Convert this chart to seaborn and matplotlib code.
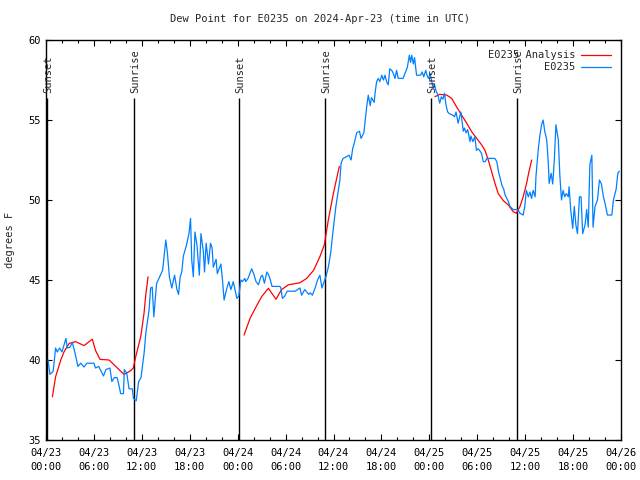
import pandas as pd
import matplotlib
matplotlib.use('Agg')
import matplotlib.pyplot as plt
import matplotlib.dates as mdates
import seaborn as sns

# hours after 2024-04-23 00:00 UTC
obs_hours = [0.25, 0.5, 0.9, 1.2, 1.4, 1.7, 2.0, 2.5, 2.65, 3.0, 3.3, 3.6, 4.0, 4.35, 4.75, 5.1,
             5.6, 6.0, 6.2, 6.6, 7.2, 7.5, 8.0, 8.25, 8.55, 8.9, 9.1, 9.35, 9.7, 9.8, 10.1, 10.4,
             10.8, 10.95, 11.3, 11.6, 11.9, 12.3, 12.5, 12.9, 13.1, 13.3, 13.5, 13.85, 14.05, 14.6,
             15.0, 15.2, 15.45, 15.75, 16.1, 16.4, 16.6, 16.8, 17.0, 17.2, 17.6, 17.9, 18.1, 18.25,
             18.45, 18.65, 18.9, 19.2, 19.4, 19.7, 19.85, 20.05, 20.35, 20.6, 20.8, 20.95, 21.3,
             21.45, 21.9, 22.1, 22.3, 22.6, 22.9, 23.15, 23.45, 23.7, 23.9, 24.15, 24.4, 24.6, 24.9,
             25.0, 25.3, 25.75, 26.0, 26.3, 26.6, 26.9, 27.1, 27.35, 27.65, 27.9, 28.1, 28.3, 28.8,
             29.3, 29.4, 29.6, 29.9, 30.2, 31.2, 31.8, 32.0, 32.4, 32.9, 33.1, 33.35, 33.7, 34.0,
             34.3, 34.55, 34.75, 35.05, 35.35, 35.65, 35.95, 36.3, 36.6, 36.8, 36.95, 37.2, 37.6,
             37.95, 38.2, 38.4, 38.65, 38.9, 39.25, 39.45, 39.8, 39.95, 40.15, 40.35, 40.6, 40.75,
             41.1, 41.2, 41.4, 41.6, 41.8, 42.05, 42.25, 42.45, 42.65, 42.85, 43.05, 43.3, 43.5,
             43.7, 43.9, 44.1, 44.3, 44.7, 44.95, 45.25, 45.5, 45.65, 45.8, 46.0, 46.15, 46.4, 46.9,
             47.1, 47.3, 47.55, 47.7, 47.9, 48.1, 48.3, 48.5, 48.65, 48.85, 49.05, 49.3, 49.5, 49.7,
             49.9, 50.1, 50.3, 50.5, 50.95, 51.15, 51.35, 51.6, 51.8, 51.95, 52.25, 52.4, 52.6,
             52.8, 53.1, 53.2, 53.45, 53.7, 53.9, 54.1, 54.3, 54.55, 54.75, 55.0, 55.2, 56.2, 56.45,
             56.65, 56.85, 57.1, 57.3, 57.5, 57.7, 57.9, 58.1, 58.3, 58.5, 59.1, 59.35, 59.75, 59.95,
             60.15, 60.4, 60.6, 60.8, 61.0, 61.25, 61.35, 61.65, 61.85, 62.05, 62.25, 62.45, 62.7,
             62.9, 63.0, 63.25, 63.45, 63.65, 63.85, 64.15, 64.35, 64.55, 64.75, 64.95, 65.15, 65.4,
             65.5, 65.7, 65.95, 66.15, 66.35, 66.55, 66.8, 67.0, 67.2, 67.5, 67.7, 67.9, 68.1, 68.35,
             68.5, 68.75, 69.05, 69.3, 69.55, 69.8, 70.0, 70.3, 70.85, 71.05, 71.4, 71.6, 71.8]
obs_dewpt = [40.0, 39.1, 39.3, 40.75, 40.5, 40.75, 40.5, 41.35, 40.75, 40.8, 41.1, 40.5, 39.6, 39.8,
             39.56, 39.8, 39.8, 39.8, 39.5, 39.6, 39.0, 39.4, 39.5, 38.65, 38.9, 38.9, 38.5, 37.9,
             37.9, 39.4, 39.2, 38.2, 38.2, 37.6, 37.45, 38.65, 38.9, 40.5, 41.7, 43.1, 44.5, 44.55,
             42.7, 44.8, 45.0, 45.6, 47.5, 46.7, 45.2, 44.5, 45.3, 44.4, 44.1, 45.2, 45.5, 46.5,
             47.2, 47.9, 48.85, 46.25, 45.2, 48.0, 47.2, 45.3, 47.9, 46.8, 45.5, 47.3, 46.0, 47.3,
             47.0, 45.8, 46.3, 45.4, 46.0, 45.0, 43.75, 44.4, 44.9, 44.4, 44.9, 44.3, 43.85, 44.0,
             45.0, 44.9, 45.1, 44.9, 45.1, 45.7, 45.4, 44.9, 44.7, 45.2, 45.3, 44.8, 45.5, 45.3,
             45.0, 44.6, 44.6, 44.6, 44.5, 43.85, 44.0, 44.3, 44.3, 44.5, 44.05, 44.4, 44.1, 44.2,
             44.05, 44.5, 45.0, 45.3, 44.5, 44.8, 45.2, 45.8, 46.7, 48.1, 49.6, 50.6, 51.25, 52.3,
             52.6, 52.7, 52.8, 52.5, 53.2, 53.65, 54.2, 54.3, 53.85, 54.2, 54.9, 55.8, 56.55, 55.9,
             56.4, 56.1, 56.67, 57.4, 57.6, 57.4, 57.8, 57.5, 57.8, 57.4, 57.2, 58.2, 58.1, 57.9,
             57.6, 58.1, 57.6, 57.6, 57.6, 57.9, 58.3, 59.05, 58.6, 59.05, 58.5, 58.9, 57.8, 57.8,
             58.0, 57.7, 58.1, 57.8, 57.6, 57.9, 57.4, 57.0, 57.2, 56.8, 56.6, 56.05, 56.45, 56.3,
             56.67, 55.9, 55.5, 55.4, 55.3, 55.2, 55.5, 54.8, 55.2, 55.5, 54.3, 54.5, 54.2, 54.4,
             53.65, 54.0, 53.65, 53.95, 53.1, 53.2, 53.1, 52.9, 52.4, 52.4, 52.6, 52.6, 52.4, 51.8,
             51.4, 50.9, 50.7, 50.3, 50.1, 49.9, 49.6, 49.5, 49.4, 49.4, 49.17, 49.06, 49.6, 50.6,
             50.2, 50.5, 50.1, 50.6, 50.2, 51.46, 53.23, 54.06, 54.7, 55.0, 54.3, 53.75, 52.3, 51.04,
             51.67, 51.0, 52.5, 54.7, 53.75, 51.46, 50.0, 50.6, 50.2, 50.4, 50.2, 50.83, 49.4, 48.23,
             49.6, 48.44, 47.9, 50.2, 50.2, 47.9, 48.44, 49.4, 48.3, 52.2, 52.8, 48.3, 49.6, 50.0,
             51.25, 51.0, 50.2, 49.8, 49.06, 49.06, 50.0, 50.7, 51.67, 51.8]

# analysis curve, three separate pieces
ana_hours_1 = [0.8, 1.2, 1.85, 2.25, 2.9, 3.7, 4.76, 5.8, 6.2, 6.76, 7.9, 8.73, 9.77, 10.6, 10.93,
               11.23, 11.86, 12.27, 12.49, 12.78]
ana_dewpt_1 = [37.7, 38.95, 40.0, 40.5, 41.04, 41.15, 40.9, 41.3, 40.6, 40.04, 40.0, 39.6, 39.1,
               39.33, 39.5, 40.2, 41.45, 42.9, 44.06, 45.2]
ana_hours_2 = [24.8, 25.55, 26.17, 27.0, 27.84, 28.8, 29.5, 30.34, 31.8, 32.64, 33.5, 34.3, 34.85,
               35.35, 35.98, 36.73]
ana_dewpt_2 = [41.56, 42.6, 43.2, 43.96, 44.48, 43.8, 44.4, 44.7, 44.83, 45.1, 45.6, 46.46, 47.2,
               48.75, 50.4, 52.1]
ana_hours_3 = [48.7, 49.3, 50.17, 50.8, 51.4, 52.05, 52.68, 53.3, 53.93, 54.56, 54.97, 55.38, 55.8,
               56.22, 56.63, 57.26, 57.88, 58.5, 58.9, 59.34, 59.75, 60.18, 60.47, 60.82]
ana_dewpt_3 = [56.46, 56.6, 56.56, 56.35, 55.83, 55.3, 54.8, 54.27, 53.85, 53.44, 53.1, 52.5, 51.77,
               51.04, 50.4, 49.96, 49.7, 49.27, 49.17, 49.58, 50.2, 51.04, 51.77, 52.5]

event_hours = [0.12, 11.02, 24.17, 34.94, 48.2, 58.98]
event_names = ['Sunset', 'Sunrise', 'Sunset', 'Sunrise', 'Sunset', 'Sunrise']

start = pd.Timestamp('2024-04-23 00:00')

frames = []
for i, (h, v) in enumerate([(ana_hours_1, ana_dewpt_1), (ana_hours_2, ana_dewpt_2),
                            (ana_hours_3, ana_dewpt_3)]):
    frames.append(pd.DataFrame({'hours': h, 'dewpt': v, 'series': 'E0235 Analysis', 'seg': i}))
frames.append(pd.DataFrame({'hours': obs_hours, 'dewpt': obs_dewpt, 'series': 'E0235', 'seg': 9}))
df = pd.concat(frames, ignore_index=True)
df['time'] = start + pd.to_timedelta(df['hours'], unit='h')

sns.set_style('ticks')
plt.rcParams['font.family'] = ['DejaVu Sans Mono']
plt.rcParams['font.size'] = 7.5

fig = plt.figure(figsize=(6.4, 4.8), dpi=100)
ax = fig.add_axes([46 / 640, 40 / 480, 575 / 640, 400 / 480])

sns.lineplot(data=df, x='time', y='dewpt', hue='series', units='seg', estimator=None,
             hue_order=['E0235 Analysis', 'E0235'],
             palette={'E0235 Analysis': '#ff0000', 'E0235': '#0080ff'},
             linewidth=0.9, ax=ax)

# sunrise / sunset markers
for h, name in zip(event_hours, event_names):
    t = start + pd.Timedelta(hours=h)
    ax.vlines(t, 35, 56.4, color='black', linewidth=1.0, zorder=1)
    ax.annotate(name, (t, 56.7), xytext=(1.2, 0), textcoords='offset points',
                rotation=90, ha='center', va='bottom', fontsize=7.5)

ax.set_xlim(start, start + pd.Timedelta(hours=72))
ax.set_ylim(35, 60)
ax.set_yticks([35, 40, 45, 50, 55, 60])
ax.xaxis.set_major_locator(mdates.HourLocator(byhour=range(0, 24, 6)))
ax.xaxis.set_minor_locator(mdates.HourLocator(byhour=range(0, 24, 2)))
ax.xaxis.set_major_formatter(mdates.DateFormatter('%m/%d\n%H:%M'))
ax.tick_params(which='both', direction='in', top=True, right=True, colors='black')
ax.tick_params(which='major', length=4, width=0.8)
ax.tick_params(which='minor', length=2.2, width=0.8)
ax.tick_params(axis='x', which='major', pad=6)
for lab in ax.get_xticklabels():
    lab.set_linespacing(1.5)
for s in ax.spines.values():
    s.set_color('black')
    s.set_linewidth(1.0)

ax.set_xlabel('')
ax.set_ylabel('')
fig.text(10 / 640, 0.5, 'degrees F', rotation=90, ha='center', va='center', fontsize=7.5)
fig.text(0.5, 1 - 19 / 480, 'Dew Point for E0235 on 2024-Apr-23 (time in UTC)',
         ha='center', va='center', fontsize=7.5)

handles, labels = ax.get_legend_handles_labels()
ax.legend(handles, labels, loc='upper right', frameon=False, markerfirst=False,
          handlelength=2.8, handletextpad=0.6, borderaxespad=0.6, labelspacing=0.2,
          fontsize=7.5)

fig.savefig('out.png', dpi=100)
